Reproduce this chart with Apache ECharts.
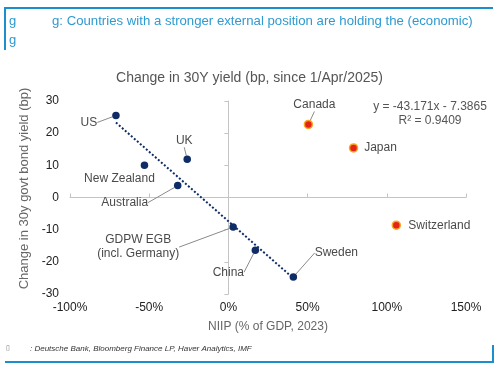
<!DOCTYPE html>
<html>
<head>
<meta charset="utf-8">
<script src="https://cdn.jsdelivr.net/npm/echarts@6/dist/echarts.min.js"></script>
<style>
html,body{margin:0;padding:0;background:#fff;}
#chart{width:499px;height:370px;}
</style>
</head>
<body>
<div id="chart"></div>
<script>
// ---- Data ----
var fitNames = ['US', 'UK', 'New Zealand', 'Australia', 'GDPW EGB\n(incl. Germany)', 'China', 'Sweden'];
var fitX = [-71, -26, -53, -32, 3, 17, 41];          // NIIP, % of GDP 2023
var fitY = [25.5, 11.9, 10.0, 3.7, -9.2, -16.4, -24.7]; // change in 30y yield, bp
var outNames = ['Canada', 'Japan', 'Switzerland'];
var outX = [50.5, 79, 106];
var outY = [22.7, 15.4, -8.6];
var trendX = [-71, 41];
var trendY = [23.3, -25.1];
var xTicks = {min: -100, max: 150, interval: 50};
var yTicks = {min: -30, max: 30, interval: 10};

// ---- Styles (label offsets relative to each point) ----
var fitOffsets = [[-27, 7], [-3, -19], [-25, 13], [-53, 17], [-95, 20], [-27, 22], [43, -24]];
var fitLines = [true, true, false, true, true, true, true];
var outOffsets = [[6, -20], [27, 0], [43, 1]];
var outLines = [true, false, false];

var NAVY = '#0f2c66';
var FONT = '"Liberation Sans", Arial, sans-serif';
var BLUE = '#1b8fcb';

function pts(xs, ys, names, lines) {
  return xs.map(function (x, i) {
    return {name: names[i], value: [x, ys[i]], labelLine: {show: lines[i]}};
  });
}

var chart = echarts.init(document.getElementById('chart'), null, {renderer: 'canvas'});
var labelStyle = {show: true, position: 'inside', formatter: '{b}', color: '#4a4a4a', fontSize: 12, fontFamily: FONT, align: 'center', lineHeight: 14};
var lineStyleLL = {color: '#8a8a8a', width: 1};

chart.setOption({
  animation: false,
  textStyle: {fontFamily: FONT},
  title: {
    text: 'Change in 30Y yield (bp, since 1/Apr/2025)',
    left: 'center', top: 66,
    textStyle: {fontSize: 14, fontWeight: 'normal', color: '#555', fontFamily: FONT}
  },
  grid: {left: 70, right: 33, top: 101, bottom: 76},
  xAxis: [{
    type: 'value', min: xTicks.min, max: xTicks.max, interval: xTicks.interval,
    position: 'bottom',
    axisLine: {show: false, onZero: false}, axisTick: {show: false}, splitLine: {show: false},
    axisLabel: {formatter: '{value}%', color: '#222', fontSize: 12, margin: 8, fontFamily: FONT},
    name: 'NIIP (% of GDP, 2023)', nameLocation: 'middle', nameGap: 27,
    nameTextStyle: {color: '#666', fontSize: 12, fontFamily: FONT}
  }, {
    type: 'value', min: xTicks.min, max: xTicks.max, interval: xTicks.interval,
    axisLine: {show: true, onZero: true, onZeroAxisIndex: 0, lineStyle: {color: '#c4c4c4', width: 1}},
    axisTick: {show: true, length: 4, lineStyle: {color: '#c4c4c4'}},
    axisLabel: {show: false}, splitLine: {show: false}
  }],
  yAxis: [{
    type: 'value', min: yTicks.min, max: yTicks.max, interval: yTicks.interval,
    position: 'left',
    axisLine: {show: false, onZero: false}, axisTick: {show: false}, splitLine: {show: false},
    axisLabel: {color: '#222', fontSize: 12, margin: 11, fontFamily: FONT},
    name: 'Change in 30y govt bond yield (bp)', nameLocation: 'middle', nameGap: 30,
    nameTextStyle: {color: '#666', fontSize: 13, fontFamily: FONT, padding: [0, 0, 0, 18]}
  }, {
    type: 'value', min: yTicks.min, max: yTicks.max, interval: yTicks.interval,
    position: 'left',
    axisLine: {show: true, onZero: true, onZeroAxisIndex: 0, lineStyle: {color: '#c4c4c4', width: 1}},
    axisTick: {show: true, length: 4, lineStyle: {color: '#c4c4c4'}},
    axisLabel: {show: false}, splitLine: {show: false}
  }],
  series: [{
    type: 'line', name: 'trend', xAxisIndex: 0, yAxisIndex: 0,
    data: trendX.map(function (x, i) { return [x, trendY[i]]; }),
    symbol: 'none', silent: true,
    lineStyle: {color: NAVY, width: 2, type: [2, 2]}, z: 1
  }, {
    type: 'scatter', name: 'fit', xAxisIndex: 0, yAxisIndex: 0,
    data: pts(fitX, fitY, fitNames, fitLines),
    symbolSize: 7.5,
    itemStyle: {color: NAVY, opacity: 1},
    label: labelStyle,
    labelLine: {show: true, lineStyle: lineStyleLL},
    labelLayout: function (p) { var o = fitOffsets[p.dataIndex]; return {dx: o[0], dy: o[1]}; },
    z: 3
  }, {
    type: 'scatter', name: 'out', xAxisIndex: 0, yAxisIndex: 0,
    data: pts(outX, outY, outNames, outLines),
    symbolSize: 8,
    itemStyle: {color: '#e4231a', borderColor: '#f7a81e', borderWidth: 1.5, opacity: 1},
    label: labelStyle,
    labelLine: {show: true, lineStyle: lineStyleLL},
    labelLayout: function (p) { var o = outOffsets[p.dataIndex]; return {dx: o[0], dy: o[1]}; },
    z: 3
  }],
  graphic: [
    {type: 'line', shape: {x1: 5, y1: 8, x2: 493, y2: 8}, style: {stroke: BLUE, lineWidth: 2}},
    {type: 'line', shape: {x1: 5, y1: 7, x2: 5, y2: 50}, style: {stroke: BLUE, lineWidth: 2}},
    {type: 'text', left: 9, top: 15, style: {text: 'g', fill: '#2e9ad0', font: '13px ' + FONT}},
    {type: 'text', left: 9, top: 34, style: {text: 'g', fill: '#2e9ad0', font: '13px ' + FONT}},
    {type: 'text', left: 52, top: 15, style: {text: 'g: Countries with a stronger external position are holding the (economic)', fill: '#2e9ad0', font: '13.2px ' + FONT}},
    {type: 'text', x: 430, y: 101, style: {text: 'y = -43.171x - 7.3865', fill: '#555', font: '12px ' + FONT, textAlign: 'center'}},
    {type: 'text', x: 430, y: 115, style: {text: 'R² = 0.9409', fill: '#555', font: '12px ' + FONT, textAlign: 'center'}},
    {type: 'text', left: 6, top: 345, style: {text: '▯', fill: '#777', font: '7px ' + FONT}},
    {type: 'text', left: 30, top: 345, style: {text: ': Deutsche Bank, Bloomberg Finance LP, Haver Analytics, IMF', fill: '#333', font: 'italic 8px "Liberation Sans Narrow", ' + FONT}},
    {type: 'line', shape: {x1: 5, y1: 362, x2: 493, y2: 362}, style: {stroke: BLUE, lineWidth: 2}},
    {type: 'line', shape: {x1: 493, y1: 345, x2: 493, y2: 363}, style: {stroke: BLUE, lineWidth: 2}}
  ]
});
</script>
</body>
</html>
